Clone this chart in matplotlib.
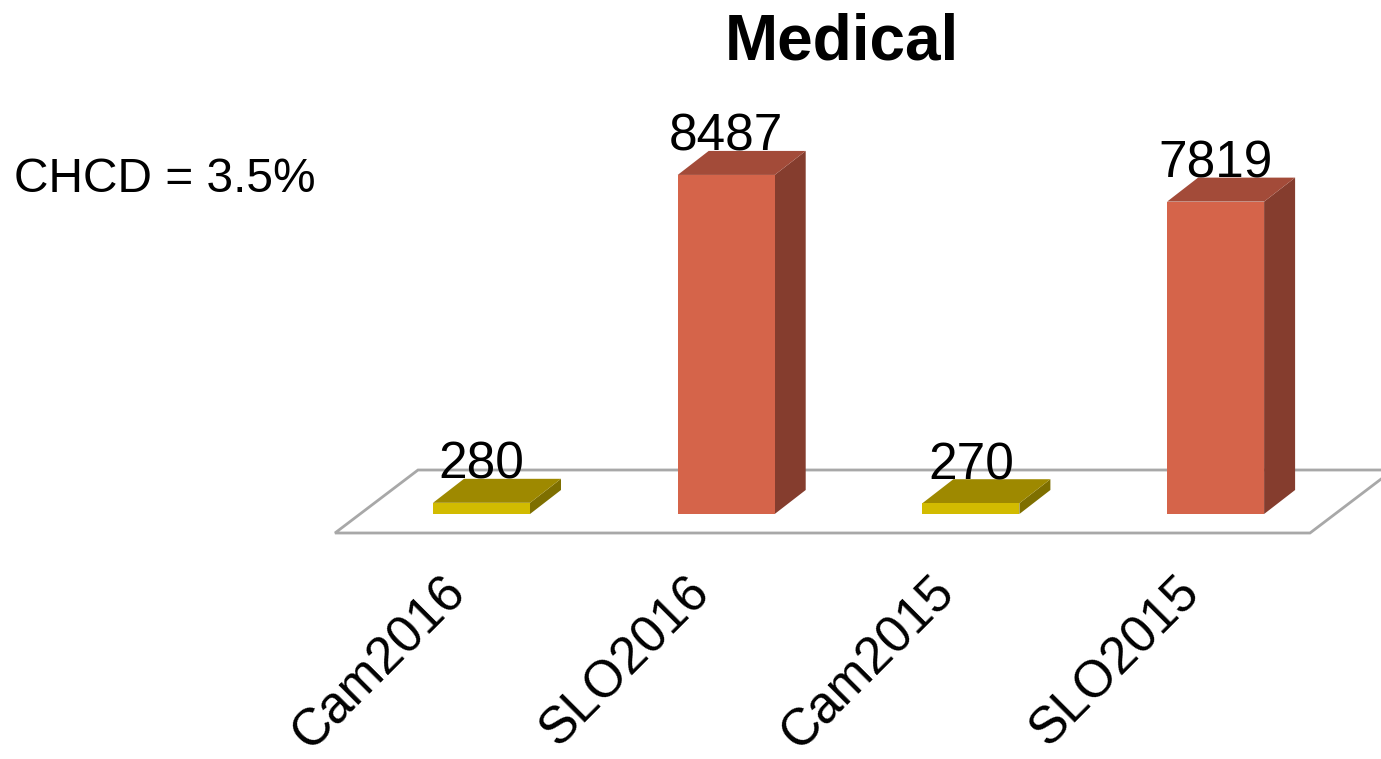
import matplotlib
matplotlib.use("Agg")
import matplotlib.pyplot as plt
from matplotlib.patches import Polygon

plt.rcParams["font.family"] = ["Liberation Sans", "DejaVu Sans"]

categories = ["Cam2016", "SLO2016", "Cam2015", "SLO2015"]
values     = [280, 8487, 270, 7819]
kinds      = ["cam", "slo", "cam", "slo"]

# face colours: front, side, top
COLORS = {
    "cam": ("#D2BB00", "#7E6F00", "#9E8900"),
    "slo": ("#D5644A", "#853D2E", "#A34B39"),
}
FLOOR_COLOR = "#A8A8A8"

W, H = 1381, 759
fig = plt.figure(figsize=(W / 100, H / 100), dpi=100)
ax = fig.add_axes([0, 0, 1, 1])

# axis scale: category spacing / value per pixel
PX_X   = 244.7          # pixels per category
X0_PX  = 481.5          # pixel x of first category
Y0_PX  = 514            # pixel y of value 0
PER_PX = 25.03          # value units per pixel
ax.set_xlim((0 - X0_PX) / PX_X, (W - X0_PX) / PX_X)
ax.set_ylim((Y0_PX - H) * PER_PX, Y0_PX * PER_PX)
ax.axis("off")

ux, uy = 1 / PX_X, PER_PX          # one pixel in data units
half = 48.5 * ux                    # half bar width
ddx, ddy = 31 * ux, 24 * uy         # bar depth offset

# floor: outline of a parallelogram under the bars
fl, fr = -146.5 * ux, 828.5 * ux
f_front, f_back = -19 * uy, 44 * uy
fdx = 83 * ux
ax.add_patch(Polygon([(fl, f_front), (fr, f_front), (fr + fdx, f_back), (fl + fdx, f_back)],
                     closed=True, facecolor="white", edgecolor=FLOOR_COLOR,
                     lw=2, zorder=1))

for i, (v, k) in enumerate(zip(values, kinds)):
    front, side, top = COLORS[k]
    xl, xr = i - half, i + half
    ax.add_patch(Polygon([(xr, 0), (xr + ddx, ddy), (xr + ddx, v + ddy), (xr, v)],
                         facecolor=side, edgecolor="none", zorder=3))
    ax.add_patch(Polygon([(xl, v), (xr, v), (xr + ddx, v + ddy), (xl + ddx, v + ddy)],
                         facecolor=top, edgecolor="none", zorder=3))
    ax.add_patch(Polygon([(xl, 0), (xr, 0), (xr, v), (xl, v)],
                         facecolor=front, edgecolor="none", zorder=4))
    ax.text(i, v + ddy - 11 * uy, str(v), ha="center", va="bottom",
            fontsize=37, zorder=5)
    ax.text(i - 41 * ux, -53 * uy, categories[i], rotation=45,
            rotation_mode="anchor", ha="right", va="top", fontsize=37)

fig.text(842 / W, 1 - 43 / H, "Medical", ha="center", va="center",
         fontsize=46, fontweight="bold")
fig.text(14 / W, 1 - 179 / H, "CHCD = 3.5%", ha="left", va="center",
         fontsize=34.5)

fig.savefig("out.png", dpi=100)
